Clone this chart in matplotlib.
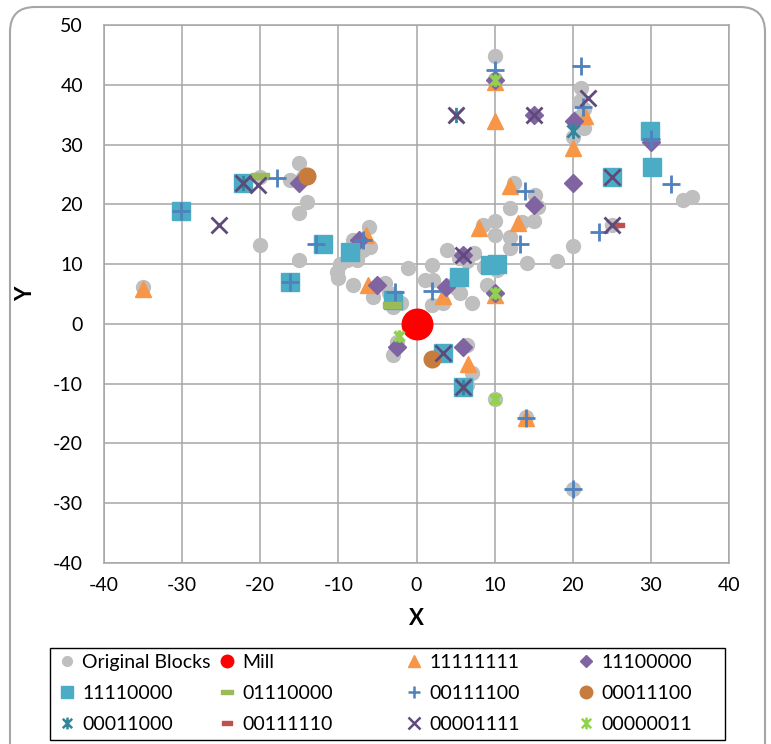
import matplotlib.pyplot as plt
from matplotlib.lines import Line2D
from matplotlib.path import Path
from matplotlib.patches import FancyBboxPatch, Rectangle

plt.rcParams['font.family'] = ['Lato', 'DejaVu Sans']
plt.rcParams['axes.unicode_minus'] = False

# Original blocks
orig_x = [-35, -20, -20, -16.2, -15, -14, -15, -15, -14.5,
          -6.1, -8.1, -6.8, -8.1, -8.9, -7.6, -9.8, -10.2, -10.0, -8.1, -5.6, -4.0, -3.0, -2.0, -3.5, -6.0, -7.0,
          -3.0, -2.5,
          -1.1, 1.1, 2.1, 2.0, 3.9, 2.0, 3.4, 5.6, 7.1, 9.0, 4.5, 5.5, 7.3, 5.5, 8.7, 10.3, 6.5, 7.1, 5.0, 6.5,
          10.1, 10.1, 12.0, 12.0, 12.0, 15.2, 15.0, 14.1, 18.0, 20.0, 13.5, 8.5, 12.5, 15.5,
          34.1, 35.3,
          10, 21.1, 20.9, 21.5, 20.5, 20, 21.5,
          10, 20, 14, 6.5,
          25, 6, 10]
orig_y = [6.2, 13.2, 24.6, 24.1, 26.9, 20.4, 18.6, 10.7, 24.5,
          16.2, 14.0, 12.4, 12.4, 10.7, 10.7, 10.1, 8.7, 7.7, 6.5, 4.5, 6.9, 2.8, 3.5, 5.2, 12.8, 13.5,
          -5.2, -3.0,
          9.4, 7.4, 7.4, 9.9, 12.4, 3.2, 3.5, 5.2, 3.5, 6.5, 6.5, 7.0, 11.8, 11.0, 9.5, 9.0, 10.5, -8.2, 6.0, -3.5,
          17.2, 14.9, 19.4, 14.5, 12.7, 21.6, 17.2, 10.2, 10.5, 13.0, 17.0, 16.5, 23.5, 19.5,
          20.7, 21.2,
          44.8, 39.5, 37.3, 32.8, 34.5, 31.2, 36.0,
          -12.6, -27.6, -15.6, -10.2,
          16.6, 11.5, 41.0]

mill_x = [0]
mill_y = [0]

s11111111_x = [-35, -6.5, -6.2, 3.4, 10, 6.6, 14, 8, 12, 13, 10, 10, 21.6, 20]
s11111111_y = [5.8, 14.8, 6.5, 4.7, 4.8, -6.7, -15.8, 16, 23, 16.8, 34, 40.5, 34.8, 29.4]

s11100000_x = [-15, -7.3, -5, -2.5, 3.8, 6, 6, 10, 15, 20, 20.2, 15, 10, 30]
s11100000_y = [23.6, 14, 6.5, -3.8, 6.1, 11.6, -3.8, 5.2, 19.9, 23.6, 34, 35, 40.8, 30.5]

s11110000_x = [-30.2, -22.2, -12, -16.2, -8.5, -3, 5.4, 9.4, 10.3, 3.4, 6, 25, 30.1, 29.9]
s11110000_y = [18.9, 23.6, 13.3, 7, 12, 4, 7.8, 9.9, 10.1, -4.8, -10.6, 24.5, 26.3, 32.2]

s01110000_x = [-20, -3.1]
s01110000_y = [24.7, 3.2]

s00111100_x = [-17.9, -30.2, -12.9, -16.2, -6.8, -2.8, 2, 10, 21.1, 21.3, 13.3, 13.9, 23.3, 32.6, 30, 14, 20]
s00111100_y = [24.4, 18.9, 13.4, 7, 14.0, 5.4, 5.5, 42.5, 43.1, 36.3, 13.4, 22.3, 15.3, 23.4, 31, -15.8, -27.6]

s00011100_x = [-14, 2]
s00011100_y = [24.8, -5.8]

s00011000_x = [-22.2, 20, 5, 6]
s00011000_y = [23.6, 32.3, 35, -10.6]

s00111110_x = [25.8]
s00111110_y = [16.5]

s00001111_x = [-25.3, -22.2, -20.3, 3.4, 6, 6, 5, 15, 22, 25, 25]
s00001111_y = [16.5, 23.6, 23.3, -4.9, -10.6, 11.6, 35, 35, 37.8, 24.5, 16.6]

s00000011_x = [10, -2.2, 10, 10]
s00000011_y = [40.8, -2.0, 5.2, -12.6]

# custom marker shapes: asterisk (x with vertical stroke) and flat dash
star = Path([(-1, -1), (1, 1), (-1, 1), (1, -1), (0, -1.25), (0, 1.25)],
            [Path.MOVETO, Path.LINETO, Path.MOVETO, Path.LINETO, Path.MOVETO, Path.LINETO])
dash = Path([(-1, -0.32), (1, -0.32), (1, 0.32), (-1, 0.32), (-1, -0.32)],
            [Path.MOVETO, Path.LINETO, Path.LINETO, Path.LINETO, Path.CLOSEPOLY])

fig = plt.figure(figsize=(7.71, 7.44), dpi=100)
ax = fig.add_axes([104 / 771, 1 - 563 / 744, 625 / 771, 538 / 744])

# name, x, y, marker style, legend marker size
series = [
    ('Original Blocks', orig_x, orig_y, dict(marker='o', ms=10, mfc='#BFBFBF', mec='#BFBFBF'), 7),
    ('Mill', mill_x, mill_y, dict(marker='o', ms=22, mfc='#FF0000', mec='#FF0000'), 9),
    ('11111111', s11111111_x, s11111111_y, dict(marker='^', ms=12, mfc='#F79646', mec='#F79646'), 9),
    ('11100000', s11100000_x, s11100000_y, dict(marker='D', ms=9, mfc='#8064A2', mec='#8064A2'), 6.5),
    ('11110000', s11110000_x, s11110000_y, dict(marker='s', ms=13, mfc='#4BACC6', mec='#4BACC6'), 9),
    ('01110000', s01110000_x, s01110000_y, dict(marker=dash, ms=13, mfc='#9BBB59', mec='#9BBB59'), 9),
    ('00111100', s00111100_x, s00111100_y, dict(marker='+', ms=13, mec='#4F81BD', mew=2), 9),
    ('00011100', s00011100_x, s00011100_y, dict(marker='o', ms=12, mfc='#C77C3C', mec='#C77C3C'), 9),
    ('00011000', s00011000_x, s00011000_y, dict(marker=star, ms=11, mec='#31859C', mew=2), 8.5),
    ('00111110', s00111110_x, s00111110_y, dict(marker=dash, ms=9, mfc='#C0504D', mec='#C0504D'), 7),
    ('00001111', s00001111_x, s00001111_y, dict(marker='x', ms=11, mec='#604A7B', mew=2), 8),
    ('00000011', s00000011_x, s00000011_y, dict(marker=star, ms=9, mec='#92D050', mew=2.5), 8.5),
]

handles = []
for name, xs, ys, style, leg_ms in series:
    ax.plot(xs, ys, linestyle='none', **style)
    leg_style = dict(style)
    leg_style['ms'] = leg_ms
    if 'mew' in leg_style:
        leg_style['mew'] = 1.8
    handles.append(Line2D([], [], linestyle='none', label=name, **leg_style))

ax.set_xlim(-40, 40)
ax.set_ylim(-40, 50)
ax.set_xticks(range(-40, 41, 10))
ax.set_yticks(range(-40, 51, 10))
ax.grid(True, color='#A6A6A6', linewidth=1.1)
ax.set_axisbelow(True)
for sp in ax.spines.values():
    sp.set_color('#A6A6A6')
    sp.set_linewidth(1.1)
ax.tick_params(length=0, labelsize=14, colors='#000000')
ax.tick_params(axis='y', pad=15)
ax.tick_params(axis='x', pad=10)
ax.set_xlabel('X', fontsize=16, fontweight='bold', labelpad=10)
ax.set_ylabel('Y', fontsize=16, fontweight='bold', labelpad=12)

# legend: four columns of three entries inside one box
col_x = [57, 217, 404, 576]
for c in range(4):
    col = [handles[r * 4 + c] for r in range(3)]
    fig.legend(handles=col, loc='upper left', bbox_to_anchor=(col_x[c] / 771, 1 - 654 / 744),
               frameon=False, fontsize=14, handlelength=1.0, handletextpad=0.3,
               borderpad=0, borderaxespad=0, labelspacing=0.72)
fig.patches.append(Rectangle((50 / 771, 1 - 740 / 744), 675 / 771, 92 / 744,
                             transform=fig.transFigure, fill=False, edgecolor='#000000', linewidth=1))

# rounded outer frame
fig.patches.append(FancyBboxPatch((0.10, -0.3), 7.55, 7.37 + 0.3,
                                  boxstyle='round,pad=0,rounding_size=0.25',
                                  transform=fig.dpi_scale_trans, fill=False,
                                  edgecolor='#A6A6A6', linewidth=1.5))

fig.savefig('out.png', dpi=100)
